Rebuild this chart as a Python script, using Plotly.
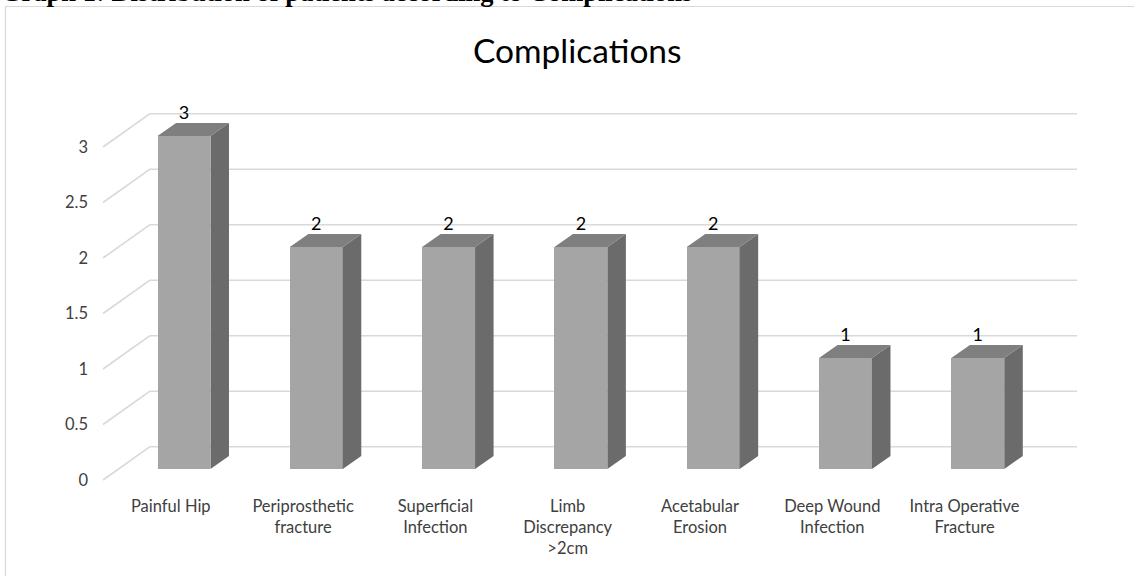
import plotly.graph_objects as go

# ---- data ----
categories = ["Painful Hip", "Periprosthetic<br>fracture", "Superficial<br>Infection",
              "Limb<br>Discrepancy<br>>2cm", "Acetabular<br>Erosion", "Deep Wound<br>Infection",
              "Intra Operative<br>Fracture"]
values = [3, 2, 2, 2, 2, 1, 1]
y_ticks = [0, 0.5, 1, 1.5, 2, 2.5, 3]
y_ticktext = ["0", "0.5", "1", "1.5", "2", "2.5", "3"]
title_text = "Complications"
heading_text = "Graph 1: Distribution of patients according to Complications"

# ---- geometry / style ----
W, H = 1134, 576
L, R, T, B = 98, 0, 20, 82
px_x = 132.3            # pixels per category
px_y = 111.0            # pixels per unit value
cat0_px = 184.0         # pixel centre of first bar front face
zero_px = 480.0         # pixel of value 0 on front edge
x_range = [(L - cat0_px) / px_x, (W - R - cat0_px) / px_x]
y_range = [(zero_px - (H - B)) / px_y, (zero_px - T) / px_y]
PW, PH = W - L - R, H - T - B


def px2paper_x(p):
    return (p - L) / PW


def px2paper_y(p):
    return (H - B - p) / PH


bar_w = 0.40
floor = 0.10            # front face bottom above front floor edge
dx, dy = 0.14, 0.117    # bar depth
wall_dx, wall_dy = 0.355, 0.30
wall_x_end = 6.75
front_x = -0.612

FRONT = "#A5A5A5"
SIDE = "#6B6B6B"
TOP = "#7F7F7F"
GRID = "#D9D9D9"
TXT = "#404040"
FONT = "Lato"

fig = go.Figure()

# back-wall gridlines and side diagonals (behind the bars)
shapes = []
for v in y_ticks:
    shapes.append(dict(type="line", xref="x", yref="y", layer="below",
                       x0=front_x, y0=v, x1=front_x + wall_dx, y1=v + wall_dy,
                       line=dict(color=GRID, width=1.6)))
    shapes.append(dict(type="line", xref="x", yref="y", layer="below",
                       x0=front_x + wall_dx, y0=v + wall_dy, x1=wall_x_end, y1=v + wall_dy,
                       line=dict(color=GRID, width=1.6)))
# chart border
shapes.append(dict(type="rect", xref="paper", yref="paper", layer="below",
                   x0=px2paper_x(5.5), x1=px2paper_x(W + 20),
                   y0=px2paper_y(H + 20), y1=px2paper_y(6.5),
                   line=dict(color=GRID, width=1.2), fillcolor="rgba(0,0,0,0)"))

xs = list(range(len(categories)))

# front faces
fig.add_trace(go.Bar(x=xs, y=values, base=[floor] * len(values), width=bar_w,
                     marker=dict(color=FRONT, line=dict(width=0)), showlegend=False,
                     hoverinfo="skip"))

# side faces
sx, sy = [], []
for i, v in zip(xs, values):
    xr = i + bar_w / 2
    sx += [xr, xr + dx, xr + dx, xr, xr, None]
    sy += [floor, floor + dy, floor + v + dy, floor + v, floor, None]
fig.add_trace(go.Scatter(x=sx, y=sy, mode="lines", fill="toself", fillcolor=SIDE,
                         line=dict(width=0, color=SIDE), hoverinfo="skip", showlegend=False))

# top faces
tx, ty = [], []
for i, v in zip(xs, values):
    xl, xr = i - bar_w / 2, i + bar_w / 2
    top = floor + v
    tx += [xl, xr, xr + dx, xl + dx, xl, None]
    ty += [top, top, top + dy, top + dy, top, None]
fig.add_trace(go.Scatter(x=tx, y=ty, mode="lines", fill="toself", fillcolor=TOP,
                         line=dict(width=0, color=TOP), hoverinfo="skip", showlegend=False))

# data labels
fig.add_trace(go.Scatter(x=xs, y=[v + floor + dy + 0.075 for v in values], mode="text",
                         text=[str(v) for v in values], textposition="middle center",
                         textfont=dict(family=FONT, size=18, color="#000000"),
                         hoverinfo="skip", showlegend=False))

fig.update_layout(
    width=W, height=H,
    margin=dict(l=L, r=R, t=T, b=B),
    paper_bgcolor="white", plot_bgcolor="white",
    font=dict(family=FONT, color=TXT),
    xaxis=dict(range=x_range, tickvals=[i - 0.1 for i in xs], ticktext=categories,
               showgrid=False, zeroline=False, showline=False, ticks="",
               tickfont=dict(size=16.5, color=TXT), fixedrange=True),
    yaxis=dict(range=y_range, tickvals=y_ticks, ticktext=y_ticktext,
               showgrid=False, zeroline=False, showline=False, ticks="",
               ticklabelstandoff=9,
               tickfont=dict(size=16.5, color=TXT), fixedrange=True),
    bargap=0,
    shapes=shapes,
    annotations=[
        dict(text=title_text, xref="paper", yref="paper",
             x=px2paper_x(577), y=px2paper_y(50),
             xanchor="center", yanchor="middle", showarrow=False,
             font=dict(family=FONT, size=33.5, color="#000000")),
        dict(text="<b>" + heading_text + "</b>", xref="paper", yref="paper",
             x=px2paper_x(-1), y=px2paper_y(9),
             xanchor="left", yanchor="bottom", showarrow=False,
             font=dict(family="Liberation Serif", size=26.5, color="#000000")),
    ],
)

fig.write_html("out.html", config={"displayModeBar": False},
               post_script="document.body.style.margin='0';document.body.style.overflow='hidden';")
